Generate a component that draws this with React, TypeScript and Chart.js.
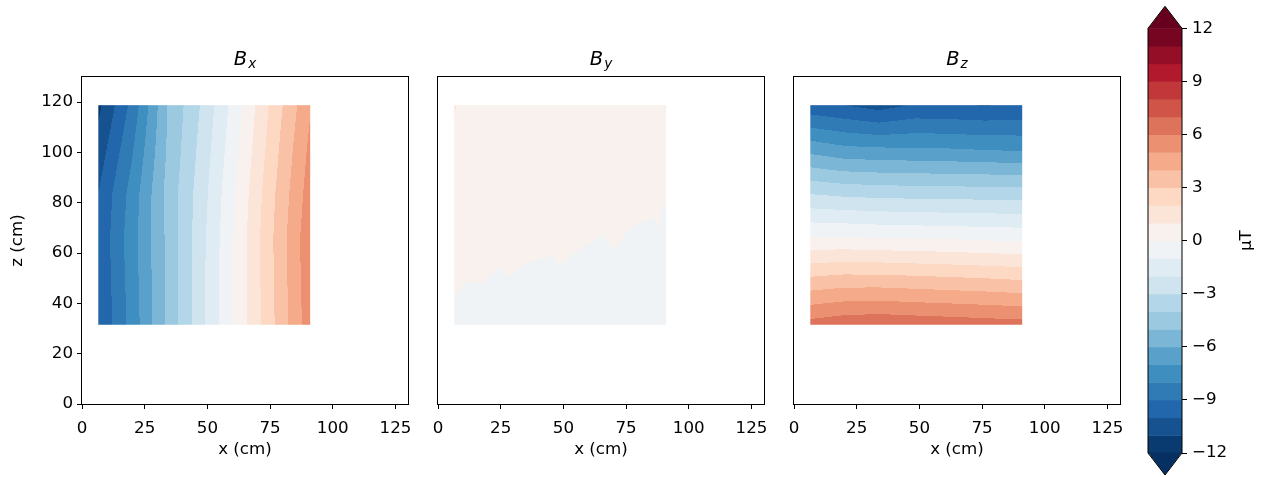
import React, { useEffect, useRef } from 'react';
import { Chart, registerables } from 'chart.js';

Chart.register(...registerables);

// ---- data ----
// Bx and Bz grid nodes
const xNodes = [6.5, 20, 34, 48, 62, 76, 91];
const zNodes = [31.5, 49, 66, 84, 101, 118.8];

// rows follow zNodes (bottom -> top), columns follow xNodes
const bxValues = [
  [-10.0, -7.6, -4.8, -2.2, 0.3, 2.85, 5.6],
  [-9.9, -7.5, -4.8, -2.2, 0.3, 2.9, 5.7],
  [-9.85, -7.4, -4.8, -2.25, 0.3, 2.95, 5.75],
  [-10.0, -7.6, -4.7, -2.4, 0.15, 2.8, 5.5],
  [-10.6, -8.1, -4.9, -2.6, -0.1, 2.55, 5.25],
  [-11.25, -8.7, -5.0, -2.85, -0.35, 2.3, 4.9],
];

const bzValues = [
  [6.4, 6.7, 6.8, 6.7, 6.6, 6.5, 6.4],
  [3.3, 3.5, 3.5, 3.4, 3.3, 3.2, 3.05],
  [0.1, 0.1, 0.0, -0.05, -0.1, -0.2, -0.25],
  [-3.1, -3.3, -3.4, -3.45, -3.5, -3.5, -3.55],
  [-6.3, -6.7, -6.8, -6.85, -6.9, -7.0, -7.1],
  [-9.7, -10.0, -10.4, -9.9, -9.95, -10.05, -9.9],
];

// By uses its own, denser node set (its zero contour is jagged)
const byXNodes = [6.5, 12, 17.5, 25, 28, 34.5, 46, 48.5, 58, 66, 70, 78, 86, 88, 89.5, 91];
const byZNodes = [31.5, 50, 65, 80, 118.8];
const byValues = [
  [-0.23, -0.34, -0.33, -0.45, -0.37, -0.49, -0.54, -0.48, -0.62, -0.72, -0.6, -0.8, -0.85, -0.76, -0.97, -0.91],
  [0.144, 0.026, 0.038, -0.082, -0.002, -0.12, -0.174, -0.108, -0.254, -0.346, -0.228, -0.426, -0.478, -0.386, -0.598, -0.544],
  [0.444, 0.326, 0.338, 0.218, 0.298, 0.18, 0.126, 0.192, 0.046, -0.046, 0.072, -0.126, -0.178, -0.086, -0.298, -0.244],
  [0.5, 0.5, 0.5, 0.5, 0.5, 0.48, 0.43, 0.49, 0.35, 0.254, 0.37, 0.174, 0.122, 0.214, 0.002, 0.056],
  [1.07, 0.55, 0.55, 0.5, 0.5, 0.5, 0.45, 0.45, 0.4, 0.4, 0.4, 0.35, 0.35, 0.35, 0.3, 0.3],
];

const levels = [-12, -11, -10, -9, -8, -7, -6, -5, -4, -3, -2, -1, 0, 1, 2, 3, 4, 5, 6, 7, 8, 9, 10, 11, 12];
const xTicks = [0, 25, 50, 75, 100, 125];
const zTicks = [0, 20, 40, 60, 80, 100, 120];
const cbarTicks = [-12, -9, -6, -3, 0, 3, 6, 9, 12];
const panelSubs = ['x', 'y', 'z'];

// ---- colormap (RdBu_r) ----
const RDBU_R = ['#053061', '#2166ac', '#4393c3', '#92c5de', '#d1e5f0', '#f7f7f7', '#fddbc7', '#f4a582', '#d6604d', '#b2182b', '#67001f'];
const hex = (h: string) => [parseInt(h.slice(1, 3), 16), parseInt(h.slice(3, 5), 16), parseInt(h.slice(5, 7), 16)];
const STOPS = RDBU_R.map(hex);
function cmap(t: number): string {
  const tc = Math.max(0, Math.min(1, t));
  const idx = Math.min(255, Math.floor(tc * 256));
  const tt = idx / 255;
  const seg = tt * 10;
  const i = Math.min(9, Math.floor(seg));
  const f = seg - i;
  const a = STOPS[i], b = STOPS[i + 1];
  const c = [0, 1, 2].map(k => Math.round(a[k] + (b[k] - a[k]) * f));
  return `rgb(${c[0]},${c[1]},${c[2]})`;
}
const vmin = levels[0], vmax = levels[levels.length - 1];
const bandColors = levels.slice(0, -1).map((lo, i) => cmap(((lo + levels[i + 1]) / 2 - vmin) / (vmax - vmin)));
const underColor = cmap(0);
const overColor = cmap(1);
function bandColor(v: number): string {
  if (v < vmin) return underColor;
  if (v >= vmax) return overColor;
  for (let i = 0; i < levels.length - 1; i++) {
    if (v < levels[i + 1]) return bandColors[i];
  }
  return overColor;
}

function locate(nodes: number[], v: number): [number, number] {
  let j = 0;
  while (j < nodes.length - 2 && v > nodes[j + 1]) j++;
  const t = Math.max(0, Math.min(1, (v - nodes[j]) / (nodes[j + 1] - nodes[j])));
  return [j, t];
}
type Field = { xs: number[]; zs: number[]; values: number[][] };
function sample(f: Field, xv: number, zv: number): number {
  const [j, tx] = locate(f.xs, xv);
  const [i, tz] = locate(f.zs, zv);
  const g = f.values;
  const a = g[i][j], b = g[i][j + 1], c = g[i + 1][j], d = g[i + 1][j + 1];
  return (a * (1 - tx) + b * tx) * (1 - tz) + (c * (1 - tx) + d * tx) * tz;
}

const FONT = "'DejaVu Sans', 'Liberation Sans', sans-serif";
Chart.defaults.font.family = FONT;
const FS = 16.7;

function makeFieldPlugin(field: Field, sub: string) {
  return {
    id: 'contourField',
    beforeDatasetsDraw(chart: any) {
      const { ctx } = chart;
      const xs = chart.scales.x, ys = chart.scales.y;
      const xl = xs.getPixelForValue(field.xs[0]);
      const xr = xs.getPixelForValue(field.xs[field.xs.length - 1]);
      const yt = ys.getPixelForValue(field.zs[field.zs.length - 1]);
      const yb = ys.getPixelForValue(field.zs[0]);
      ctx.save();
      for (let py = Math.floor(yt); py < yb; py++) {
        const r0 = Math.max(py, yt), r1 = Math.min(py + 1, yb);
        const zv = ys.getValueForPixel((r0 + r1) / 2);
        let runStart = 0, runEnd = -1, runCol = '';
        for (let px = Math.floor(xl); px < xr; px++) {
          const c0 = Math.max(px, xl), c1 = Math.min(px + 1, xr);
          const xv = xs.getValueForPixel((c0 + c1) / 2);
          const col = bandColor(sample(field, xv, zv));
          if (col === runCol && c0 === runEnd) {
            runEnd = c1;
          } else {
            if (runCol) { ctx.fillStyle = runCol; ctx.fillRect(runStart, r0, runEnd - runStart, r1 - r0); }
            runStart = c0; runEnd = c1; runCol = col;
          }
        }
        if (runCol) { ctx.fillStyle = runCol; ctx.fillRect(runStart, r0, runEnd - runStart, r1 - r0); }
      }
      ctx.restore();
    },
    afterDraw(chart: any) {
      const { ctx, chartArea } = chart;
      const { left, right, top, bottom } = chartArea;
      ctx.save();
      ctx.strokeStyle = '#000';
      ctx.lineWidth = 1;
      const l = Math.round(left) - 0.5, r = Math.round(right) + 0.5;
      const t = Math.round(top) - 0.5, b = Math.round(bottom) + 0.5;
      ctx.strokeRect(l, t, r - l, b - t);
      // title B_sub (math italic)
      ctx.fillStyle = '#000';
      ctx.textBaseline = 'alphabetic';
      ctx.textAlign = 'left';
      const big = `italic 19.5px ${FONT}`;
      const small = `italic 13.6px ${FONT}`;
      ctx.font = big;
      const wB = ctx.measureText('B').width;
      ctx.font = small;
      const wS = ctx.measureText(sub).width;
      const x0 = (left + right) / 2 - (wB + wS + 1) / 2;
      ctx.font = big;
      ctx.fillText('B', x0, top - 12);
      ctx.font = small;
      ctx.fillText(sub, x0 + wB + 1, top - 9);
      ctx.restore();
    },
  };
}

const colorbarPlugin = {
  id: 'colorbarBands',
  beforeDatasetsDraw(chart: any) {
    const { ctx, chartArea } = chart;
    const ys = chart.scales.y;
    const { left, right } = chartArea;
    ctx.save();
    for (let i = 0; i < levels.length - 1; i++) {
      const y0 = ys.getPixelForValue(levels[i + 1]);
      const y1 = ys.getPixelForValue(levels[i]);
      ctx.fillStyle = bandColors[i];
      ctx.fillRect(left, y0, right - left, y1 - y0 + 0.5);
    }
    const top = ys.getPixelForValue(vmax), bot = ys.getPixelForValue(vmin);
    const ext = 22;
    const cx = (left + right) / 2;
    ctx.fillStyle = overColor;
    ctx.beginPath(); ctx.moveTo(left, top + 0.5); ctx.lineTo(cx, top - ext); ctx.lineTo(right, top + 0.5); ctx.closePath(); ctx.fill();
    ctx.fillStyle = underColor;
    ctx.beginPath(); ctx.moveTo(left, bot - 0.5); ctx.lineTo(cx, bot + ext); ctx.lineTo(right, bot - 0.5); ctx.closePath(); ctx.fill();
    ctx.strokeStyle = '#000';
    ctx.lineWidth = 1;
    ctx.beginPath();
    ctx.moveTo(left, bot); ctx.lineTo(left, top); ctx.lineTo(cx, top - ext); ctx.lineTo(right, top);
    ctx.lineTo(right, bot); ctx.lineTo(cx, bot + ext); ctx.closePath(); ctx.stroke();
    // label
    ctx.fillStyle = '#000';
    ctx.font = `${FS}px ${FONT}`;
    ctx.textAlign = 'center';
    ctx.textBaseline = 'middle';
    ctx.translate(right + 64.7, (top + bot) / 2);
    ctx.rotate(-Math.PI / 2);
    ctx.fillText('\u00b5T', 0, 0);
    ctx.restore();
  },
};

const tickFont = { family: FONT, size: FS };
const fmt = (v: number) => (v < 0 ? '\u2212' + Math.abs(v) : String(v));

type PanelSpec = { field: Field; sub: string; canvasLeft: number; width: number; padLeft: number; showY: boolean };
const panels: PanelSpec[] = [
  { field: { xs: xNodes, zs: zNodes, values: bxValues }, sub: panelSubs[0], canvasLeft: 0, width: 425, padLeft: 4, showY: true },
  { field: { xs: byXNodes, zs: byZNodes, values: byValues }, sub: panelSubs[1], canvasLeft: 421, width: 360, padLeft: 17, showY: false },
  { field: { xs: xNodes, zs: zNodes, values: bzValues }, sub: panelSubs[2], canvasLeft: 777, width: 360, padLeft: 17, showY: false },
];

function panelConfig(p: PanelSpec): any {
  const pts: { x: number; y: number }[] = [];
  p.field.zs.forEach(z => p.field.xs.forEach(x => pts.push({ x, y: z })));
  return {
    type: 'scatter',
    data: { datasets: [{ data: pts, pointRadius: 0, pointHoverRadius: 0, showLine: false }] },
    options: {
      responsive: false,
      animation: false,
      events: [],
      layout: { padding: { left: p.padLeft, right: 17, top: 77, bottom: 13 } },
      plugins: { legend: { display: false }, tooltip: { enabled: false }, title: { display: false } },
      scales: {
        x: {
          type: 'linear', min: 0, max: 130,
          afterBuildTicks: (s: any) => { s.ticks = xTicks.map(v => ({ value: v })); },
          afterFit: (s: any) => { s.height = 60; },
          ticks: { font: tickFont, color: '#000', padding: 10, maxRotation: 0, autoSkip: false, callback: (v: any) => fmt(Number(v)) },
          grid: { drawOnChartArea: false, drawTicks: true, tickLength: 5, color: '#000', lineWidth: 1 },
          border: { display: false },
          title: { display: true, text: 'x (cm)', color: '#000', font: tickFont, padding: { top: 4, bottom: 4 } },
        },
        y: {
          type: 'linear', min: 0, max: 130,
          display: p.showY,
          afterBuildTicks: (s: any) => { s.ticks = zTicks.map(v => ({ value: v })); },
          afterFit: (s: any) => { s.width = p.showY ? 78 : 0; },
          ticks: { font: tickFont, color: '#000', padding: 4, autoSkip: false, callback: (v: any) => fmt(Number(v)) },
          grid: { drawOnChartArea: false, drawTicks: true, tickLength: 5, color: '#000', lineWidth: 1 },
          border: { display: false },
          title: { display: true, text: 'z (cm)', color: '#000', font: tickFont, padding: { top: 4, bottom: 4 } },
        },
      },
    },
    plugins: [makeFieldPlugin(p.field, p.sub)],
  };
}

function colorbarConfig(): any {
  return {
    type: 'scatter',
    data: { datasets: [{ data: levels.map(v => ({ x: 0.5, y: v })), pointRadius: 0, pointHoverRadius: 0 }] },
    options: {
      responsive: false,
      animation: false,
      events: [],
      layout: { padding: { left: 18, right: 0, top: 28.3, bottom: 24 } },
      plugins: { legend: { display: false }, tooltip: { enabled: false } },
      scales: {
        x: { type: 'linear', min: 0, max: 1, display: false },
        y: {
          type: 'linear', position: 'right', min: vmin, max: vmax,
          afterBuildTicks: (s: any) => { s.ticks = cbarTicks.map(v => ({ value: v })); },
          afterFit: (s: any) => { s.width = 84; },
          ticks: { font: tickFont, color: '#000', padding: 5, autoSkip: false, callback: (v: any) => fmt(Number(v)) },
          grid: { drawOnChartArea: false, drawTicks: true, tickLength: 5, color: '#000', lineWidth: 1 },
          border: { display: false },
        },
      },
    },
    plugins: [colorbarPlugin],
  };
}

export default function App() {
  const refs = [useRef<HTMLCanvasElement>(null), useRef<HTMLCanvasElement>(null), useRef<HTMLCanvasElement>(null)];
  const cbRef = useRef<HTMLCanvasElement>(null);

  useEffect(() => {
    const charts: Chart[] = [];
    panels.forEach((p, i) => {
      const c = refs[i].current;
      if (c) charts.push(new Chart(c, panelConfig(p)));
    });
    if (cbRef.current) charts.push(new Chart(cbRef.current, colorbarConfig()));
    return () => charts.forEach(ch => ch.destroy());
  }, []);

  return (
    <div style={{ position: 'absolute', left: 0, top: 0, width: 1266, height: 477, background: '#fff', overflow: 'hidden' }}>
      {panels.map((p, i) => (
        <canvas
          key={i}
          ref={refs[i]}
          width={p.width}
          height={477}
          style={{ position: 'absolute', left: p.canvasLeft, top: 0, width: p.width, height: 477 }}
        />
      ))}
      <canvas ref={cbRef} width={136} height={477} style={{ position: 'absolute', left: 1130, top: 0, width: 136, height: 477 }} />
    </div>
  );
}
